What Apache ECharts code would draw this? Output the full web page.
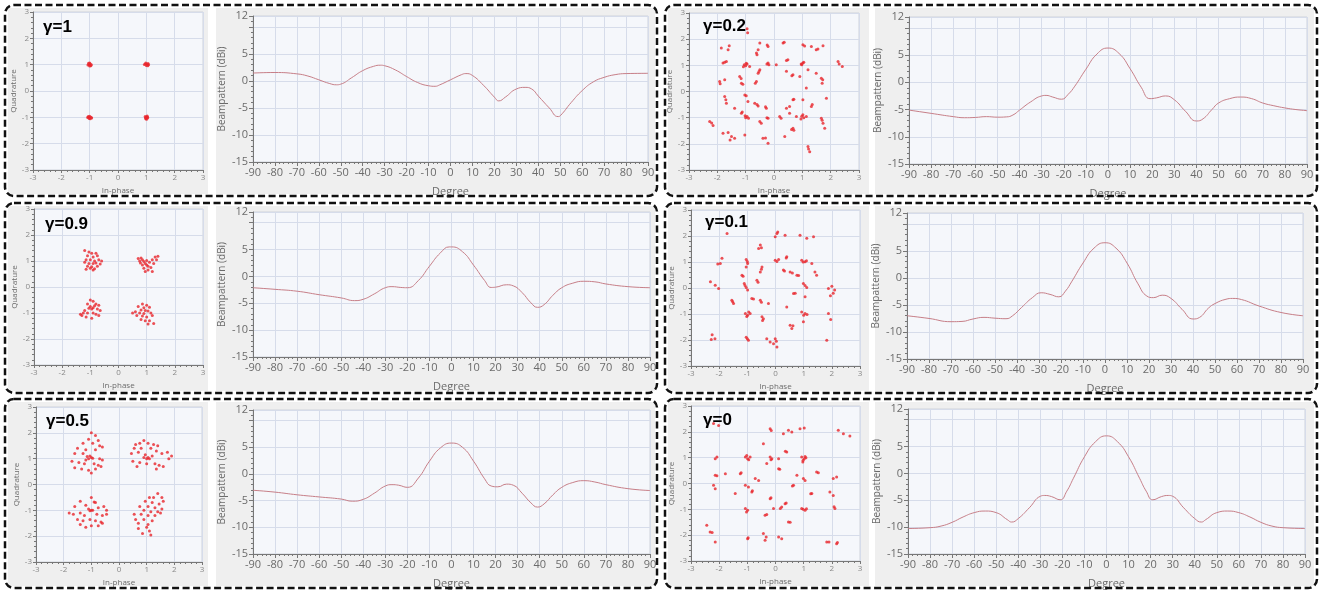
<!DOCTYPE html>
<html>
<head>
<meta charset="utf-8">
<script src="https://cdn.jsdelivr.net/npm/echarts@6/dist/echarts.min.js"></script>
<style>html,body{margin:0;padding:0;background:#fff}#c{width:1325px;height:590px}</style>
</head>
<body>
<div id="c"></div>
<script>
// ---------- DATA ----------
const gammaLabels = ['γ=1', 'γ=0.2', 'γ=0.9', 'γ=0.1', 'γ=0.5', 'γ=0'];
const iqTicks = [-3, -2, -1, 0, 1, 2, 3];
const degTicks = [-90, -80, -70, -60, -50, -40, -30, -20, -10, 0, 10, 20, 30, 40, 50, 60, 70, 80, 90];
const bpTicks = [-15, -10, -5, 0, 5, 12];

// Beampattern curves (degree, dBi)
const degG1 = [-90,-80,-70,-65,-60,-55,-52,-50,-45,-40,-35,-32,-30,-25,-20,-15,-10,-7,-5,0,5,7,10,15,20,22,25,30,34,37,40,45,49,50,55,60,65,70,75,80,90];
const bpG1  = [1.45,1.55,1.3,0.9,0.2,-0.5,-0.72,-0.6,0.6,1.9,2.7,2.9,2.8,2.0,0.8,-0.3,-0.9,-1.0,-0.75,0.2,1.15,1.35,1.0,-0.8,-3.0,-3.7,-3.0,-1.5,-1.2,-1.5,-2.8,-5.0,-6.6,-6.45,-4.0,-1.8,-0.2,0.65,1.15,1.35,1.4];

const degG09 = [-90,-80,-70,-60,-50,-44,-40,-35,-30,-27,-23,-20,-15,-10,-5,-1,0,5,10,15,18,20,25,28,32,36,39,42,46,50,55,60,65,70,80,90];
const bpG09  = [-2.1,-2.4,-2.75,-3.4,-4.0,-4.5,-4.25,-3.25,-2.1,-1.9,-2.05,-2.1,-0.75,1.9,4.4,5.5,5.5,4.6,2.1,-0.75,-2.05,-2.0,-1.55,-1.75,-3.0,-4.9,-5.75,-5.25,-3.5,-2.1,-1.25,-0.9,-1.0,-1.4,-1.9,-2.1];

const degG05 = [-90,-80,-70,-60,-50,-45,-40,-35,-30,-27,-24,-20,-15,-10,-5,0,5,10,15,18,21,25,28,32,36,39,42,46,50,55,60,65,70,80,90];
const bpG05  = [-3.05,-3.4,-3.9,-4.3,-4.7,-5.1,-4.75,-3.6,-2.25,-2.0,-2.1,-2.5,-0.75,2.4,4.9,5.8,5.0,2.4,-0.9,-2.25,-2.4,-1.9,-2.1,-3.6,-5.4,-6.2,-5.6,-3.9,-2.5,-1.6,-1.25,-1.5,-2.0,-2.75,-3.1];

const degG02 = [-90,-80,-70,-65,-60,-55,-50,-46,-43,-40,-35,-30,-28,-25,-21,-18,-15,-10,-5,0,5,10,15,19,22,26,30,35,40,43,47,50,55,60,65,70,75,80,85,90];
const bpG02  = [-5.1,-5.7,-6.3,-6.5,-6.45,-6.3,-6.4,-6.35,-6.0,-5.1,-3.6,-2.5,-2.4,-2.7,-3.1,-2.2,-0.7,2.4,5.2,6.3,5.3,2.5,-0.9,-3.0,-2.85,-2.5,-3.2,-5.3,-7.1,-6.7,-5.0,-3.8,-3.0,-2.7,-3.0,-3.8,-4.3,-4.7,-5.0,-5.2];

const degG01 = [-90,-80,-70,-65,-60,-55,-50,-45,-42,-38,-33,-29,-25,-21,-18,-15,-10,-5,0,5,10,15,19,22,26,30,35,40,43,47,50,55,58,62,70,80,90];
const bpG01  = [-7.0,-7.5,-8.1,-8.05,-7.6,-7.3,-7.45,-7.55,-7.0,-5.5,-3.65,-2.75,-3.05,-3.5,-2.45,-0.6,2.75,5.5,6.5,5.5,2.75,-1.1,-3.35,-3.65,-3.2,-3.8,-5.8,-7.6,-7.3,-5.6,-4.75,-3.95,-3.8,-4.0,-5.2,-6.4,-7.0];

const degG0 = [-90,-80,-75,-70,-65,-60,-55,-50,-45,-43,-40,-35,-30,-28,-25,-21,-18,-15,-10,-5,0,5,10,15,18,21,25,28,30,35,40,43,45,50,55,60,65,70,75,80,90];
const bpG0  = [-10.25,-10.1,-9.8,-9.1,-8.1,-7.3,-7.0,-7.3,-8.6,-9.05,-8.4,-6.4,-4.25,-4.1,-4.3,-4.9,-3.3,-0.9,3.1,5.9,7.0,5.9,3.1,-0.9,-3.3,-4.9,-4.3,-4.1,-4.25,-6.4,-8.4,-9.05,-8.6,-7.3,-7.0,-7.3,-8.1,-9.1,-9.8,-10.1,-10.25];

// Constellation points (In-phase, Quadrature)
const iqG1 = [[-1.02,1.0],[-0.98,1.03],[-1.0,0.95],[-1.06,0.99],[-0.94,1.0],[-1.04,1.05],[-0.96,0.96],[-1.0,1.06],
  [0.97,1.03],[1.04,1.02],[1.0,0.97],[1.08,1.0],[0.93,1.01],[1.05,0.96],[0.98,1.06],[1.06,1.04],
  [-1.03,-1.0],[-0.95,-1.0],[-1.0,-0.96],[-1.07,-1.01],[-0.98,-1.05],[-0.93,-1.03],[-1.02,-1.04],[-1.05,-0.97],
  [1.0,-1.0],[1.03,-0.95],[0.98,-1.05],[1.05,-1.02],[0.96,-0.97],[1.01,-1.07],[1.04,-0.99],[0.97,-1.02]];

const iqG09 = [[-1.2,1.4],[-1.05,1.35],[-0.95,1.3],[-0.8,1.3],[-1.1,1.2],[-0.9,1.15],[-0.75,1.2],[-1.15,1.05],[-1.0,1.05],[-0.85,1.0],[-0.7,1.05],[-0.6,1.0],[-1.2,0.95],[-1.05,0.9],[-0.9,0.9],[-0.8,0.92],[-0.65,0.88],[-1.1,0.8],[-0.95,0.78],[-0.75,0.8],[-1.15,0.68],[-0.9,0.65],[-1.0,0.72],[-0.85,0.7],
  [0.7,1.1],[0.8,1.12],[0.75,1.0],[0.85,1.05],[0.9,0.98],[0.95,0.9],[1.0,0.85],[0.85,0.85],[1.05,0.8],[1.1,0.95],[1.2,1.05],[1.3,1.15],[1.4,1.18],[1.35,1.05],[1.15,0.75],[1.05,0.65],[0.95,0.6],[1.2,0.6],[0.78,0.92],[1.0,1.02],[1.25,0.9],[0.9,0.72],
  [-1.0,-0.5],[-0.9,-0.55],[-1.1,-0.65],[-0.8,-0.65],[-0.7,-0.7],[-1.0,-0.75],[-0.9,-0.8],[-0.95,-0.85],[-1.05,-0.82],[-0.75,-0.85],[-0.65,-0.9],[-1.2,-0.9],[-1.35,-1.05],[-1.25,-1.0],[-1.1,-1.0],[-0.9,-1.0],[-0.8,-1.05],[-1.15,-1.15],[-0.95,-1.2],[-0.7,-1.1],[-1.3,-1.1],[-0.85,-0.72],
  [0.85,-0.65],[1.0,-0.7],[0.7,-0.75],[0.9,-0.8],[1.1,-0.78],[0.8,-0.88],[0.95,-0.9],[1.05,-0.92],[0.6,-0.95],[0.5,-1.0],[0.75,-1.0],[0.9,-1.02],[1.15,-1.0],[0.65,-1.1],[0.85,-1.12],[1.0,-1.15],[1.2,-1.1],[0.8,-1.25],[0.95,-1.3],[1.1,-1.3],[1.25,-1.4],[1.05,-1.42]];

const iqG05 = [[-1.0,2.0],[-0.85,1.9],[-1.1,1.75],[-0.75,1.7],[-1.3,1.6],[-0.95,1.6],[-0.7,1.5],[-0.6,1.45],[-1.5,1.4],[-1.2,1.35],[-0.85,1.35],[-1.6,1.2],[-1.3,1.2],[-1.05,1.1],[-1.0,1.05],[-1.1,1.0],[-0.95,1.02],[-1.15,1.08],[-0.7,1.0],[-0.6,0.95],[-1.7,0.9],[-1.45,0.85],[-1.25,0.8],[-0.9,0.8],[-0.75,0.75],[-1.6,0.65],[-1.35,0.6],[-1.1,0.55],[-0.85,0.6],[-1.0,0.45],[-0.65,0.7],[-1.2,0.95],
  [0.6,1.55],[0.75,1.6],[0.9,1.7],[1.05,1.6],[1.25,1.55],[1.4,1.5],[0.55,1.4],[0.8,1.4],[1.15,1.4],[1.35,1.3],[0.45,1.2],[0.7,1.25],[0.95,1.15],[1.05,1.05],[1.1,1.0],[1.0,1.0],[0.9,1.05],[1.2,1.1],[1.55,1.2],[1.75,1.25],[1.9,1.1],[0.5,0.9],[0.75,0.85],[1.0,0.8],[1.3,0.8],[1.45,0.75],[1.6,0.7],[1.35,0.6],[0.65,0.7],[1.8,1.0],
  [-1.0,-0.5],[-0.9,-0.68],[-0.85,-0.7],[-1.4,-0.65],[-1.2,-0.8],[-1.6,-0.85],[-1.1,-0.95],[-1.0,-1.0],[-1.05,-1.02],[-0.95,-1.0],[-0.75,-0.9],[-0.55,-0.85],[-0.45,-1.0],[-1.8,-1.1],[-1.65,-1.15],[-1.4,-1.1],[-1.25,-1.2],[-0.8,-1.15],[-0.6,-1.2],[-0.45,-1.15],[-1.5,-1.35],[-1.3,-1.4],[-1.05,-1.35],[-0.85,-1.4],[-0.65,-1.45],[-1.4,-1.55],[-1.0,-1.6],[-0.75,-1.6],[-0.6,-1.5],[-1.2,-1.65],
  [1.4,-0.35],[1.1,-0.5],[1.25,-0.5],[1.55,-0.5],[0.95,-0.65],[1.2,-0.7],[1.45,-0.75],[0.75,-0.85],[1.05,-0.85],[1.3,-0.9],[1.55,-0.95],[0.9,-1.0],[1.15,-1.05],[1.4,-1.05],[0.55,-1.15],[0.8,-1.15],[1.05,-1.2],[1.3,-1.2],[0.6,-1.35],[0.9,-1.35],[1.2,-1.4],[0.7,-1.5],[1.05,-1.55],[0.7,-1.7],[1.0,-1.65],[1.1,-1.8],[1.15,-1.95],[0.85,-1.9],[1.5,-1.1],[1.6,-0.65]];

const iqG02 = [[-0.95,2.4],[-0.93,2.25],[-1.86,1.66],[-1.62,1.6],[-1.58,1.75],[-1.68,1.15],[-1.8,1.09],[-1.74,1.12],
  [-1.05,1.02],[-1.0,0.98],[-0.95,1.05],[-1.08,0.95],[-0.98,1.08],[-0.86,0.96],[-0.62,1.47],[-0.56,1.6],[-0.6,1.4],[-0.5,1.85],
  [-0.21,1.72],[-0.24,1.78],[-0.5,0.83],[-0.56,0.7],[-0.53,0.76],[-0.62,0.38],[-0.66,0.32],[-0.21,1.09],[-0.18,1.02],[-0.25,1.05],
  [0.08,1.02],[0.32,1.85],[0.36,1.88],[0.49,1.21],[0.44,1.18],[0.44,0.77],[0.67,0.64],[0.63,0.6],[0.91,0.57],
  [1.02,1.09],[0.98,1.02],[1.05,1.12],[0.96,1.05],[1.02,1.79],[1.08,1.74],[1.32,1.72],[1.49,1.6],[1.55,1.62],[1.73,1.75],
  [1.2,0.83],[1.49,0.7],[1.67,0.51],[1.7,0.32],[1.72,0.45],[1.14,0.13],[2.26,1.15],[2.41,0.96],[2.3,1.05],
  [-1.92,0.38],[-1.74,0.45],[-1.9,0.3],[-1.21,0.57],[-1.16,0.5],[-1.15,0.32],[-1.1,0.28],
  [-1.74,-0.19],[-1.68,-0.45],[-1.7,-0.32],[-1.03,-0.13],[-0.98,-0.16],[-0.92,-0.38],[-0.68,-0.45],[-0.56,-0.55],[-0.6,-0.5],
  [-0.27,-0.64],[-0.3,-0.58],[-1.39,-0.64],[-1.15,-0.83],[-1.12,-0.78],[-0.95,-0.96],[-1.0,-1.0],[-0.9,-1.02],[-1.02,-0.93],
  [-0.45,-1.21],[-0.5,-1.15],[-0.21,-1.02],[-0.25,-1.0],[-0.39,-1.79],[-0.3,-1.78],[-0.21,-1.98],
  [-2.27,-1.15],[-2.2,-1.2],[-2.15,-1.3],[-1.8,-1.6],[-1.62,-1.57],[-1.5,-1.72],[-1.39,-1.79],[-1.55,-1.85],[-1.03,-1.66],
  [0.2,-0.96],[0.25,-1.02],[0.44,-0.64],[0.55,-0.57],[0.67,-0.32],[0.7,-0.3],[0.55,-0.83],[0.79,-0.96],
  [1.02,-0.89],[0.98,-0.95],[1.05,-1.0],[0.95,-1.05],[1.14,-0.96],[1.02,-0.32],[1.32,-0.57],[1.35,-0.5],
  [0.67,-1.4],[0.62,-1.45],[0.7,-1.48],[0.38,-1.72],[1.67,-1.02],[1.73,-1.21],[1.7,-1.1],[1.79,-1.4],[1.85,-0.26],
  [1.2,-2.1],[1.26,-2.3],[1.22,-2.2]];

const iqG01 = [[-1.72,2.1],[-1.9,1.14],[-1.96,0.94],[-2.05,0.92],[-2.31,0.24],[-2.14,0.11],[-2.02,-0.02],
  [-1.55,-0.47],[-1.49,-0.6],[-1.52,-0.53],[-2.25,-1.8],[-2.15,-1.95],[-2.28,-1.98],
  [-1.04,1.1],[-0.99,0.94],[-1.04,0.81],[-1.0,1.02],[-1.19,0.49],[-1.15,0.45],
  [-1.11,0.17],[-1.04,0.02],[-0.99,-0.08],[-1.08,0.1],[-0.84,-0.4],[-0.78,-0.42],
  [-1.07,-0.98],[-0.99,-1.05],[-0.9,-0.98],[-1.02,-1.1],[-0.95,-0.92],[-1.04,-1.89],[-0.96,-2.01],[-1.0,-1.95],
  [-0.6,1.52],[-0.54,1.65],[-0.5,1.55],[-0.48,0.81],[-0.54,0.62],[-0.5,0.72],[-0.66,0.3],[-0.62,0.22],
  [-0.54,-0.47],[-0.5,-0.55],[-0.25,-0.6],[-0.48,-1.11],[-0.43,-1.18],[-0.46,-1.25],
  [-0.31,-1.95],[-0.19,-2.08],[-0.07,-2.14],[-0.01,-1.95],[0.05,-2.27],[0.03,-2.05],
  [-0.01,1.07],[0.11,1.1],[0.05,1.02],[0.05,2.1],[-0.01,1.97],[0.08,2.15],[0.34,2.03],
  [0.4,1.2],[0.38,1.15],[0.28,0.69],[0.32,0.65],[0.4,-0.73],[0.52,0.62],[0.6,0.58],[0.64,-0.21],[0.7,-0.2],
  [0.52,-1.43],[0.58,-1.56],[0.62,-1.45],[0.87,2.03],[1.11,1.91],[1.35,1.97],
  [0.93,1.07],[1.05,1.01],[0.98,1.0],[1.1,1.05],[0.76,0.49],[0.82,0.48],[0.99,0.17],[1.11,0.02],[1.05,0.1],[1.05,-0.34],
  [0.93,-0.92],[1.05,-0.98],[1.0,-1.05],[1.12,-1.02],[0.99,-1.3],[1.4,0.62],[1.46,0.49],[1.29,0.94],
  [1.88,-0.02],[2.0,0.07],[2.05,-0.2],[2.1,-0.08],[1.95,-0.3],[1.88,-0.98],[1.96,-1.21],[1.82,-2.01]];

const iqG0 = [[-2.2,2.32],[-2.02,2.25],[-2.14,0.96],[-2.08,1.03],[-2.14,0.32],[-2.08,0.3],[-2.2,-0.07],[-2.14,-0.2],
  [-1.78,0.38],[-1.25,0.38],[-1.22,0.42],[-1.43,-0.39],
  [-1.07,1.03],[-0.99,0.96],[-0.9,1.03],[-1.02,1.08],[-0.95,0.92],[-1.07,-0.07],[-0.96,-0.14],[-0.84,-0.33],[-0.82,-0.28],
  [-1.07,-0.97],[-0.99,-1.04],[-1.03,-1.1],[-0.99,-2.14],[-0.97,-2.1],[-0.72,0.19],[-0.6,0.12],[-0.43,1.54],
  [-0.19,1.03],[-0.13,0.96],[-0.16,0.92],[-0.19,2.12],[-0.15,2.05],[-0.31,0.77],[-0.19,-0.59],[-0.16,-0.55],
  [-0.37,-1.23],[-0.31,-1.2],[-0.43,-1.94],[-0.33,-2.07],[-0.37,-2.2],
  [0.11,0.96],[0.11,0.57],[0.15,0.55],[0.17,-0.97],[0.22,-0.91],[-0.07,-0.97],[0.34,-0.78],[0.38,-0.75],
  [0.11,-2.07],[0.22,-2.14],[0.28,1.93],[0.46,2.06],[0.58,1.99],[0.4,1.22],[0.35,1.25],[0.46,-1.49],[0.52,-1.5],
  [0.87,2.12],[1.02,2.15],[0.93,1.03],[1.02,0.96],[0.97,0.83],[1.05,1.05],[0.98,0.9],[1.08,1.0],
  [0.76,0.32],[0.99,0.19],[1.05,0.12],[0.64,-0.07],[0.6,-0.1],
  [0.93,-0.97],[1.05,-1.04],[0.98,-1.0],[1.1,-0.98],[1.29,-0.39],[1.25,-0.4],[1.46,0.45],[1.52,0.42],
  [2.05,0.19],[2.17,0.25],[1.93,-0.33],[2.05,-0.46],[2.11,-0.97],[2.08,-0.9],
  [1.82,-2.26],[1.9,-2.26],[2.17,-2.33],[2.2,-2.28],[2.23,2.06],[2.41,1.93],[2.64,1.84],
  [-2.44,-1.62],[-2.32,-1.88],[-2.25,-1.9],[-2.14,-2.26]];

// panel order: row by row, left then right
const curves = [[degG1, bpG1], [degG02, bpG02], [degG09, bpG09], [degG01, bpG01], [degG05, bpG05], [degG0, bpG0]];
const points = [iqG1, iqG02, iqG09, iqG01, iqG05, iqG0];

// ---------- LAYOUT ----------
const rowTop = [5, 203, 399];
const rowH = [191, 190, 189];
const scatterGrids = [
  {left: 33, top: 12, width: 170, height: 158}, {left: 689, top: 13, width: 170, height: 157},
  {left: 34, top: 209, width: 169, height: 156}, {left: 691, top: 210, width: 169, height: 156},
  {left: 36, top: 407, width: 166, height: 155}, {left: 691, top: 406, width: 169, height: 155}
];
const lineGrids = [
  {left: 253, top: 16, width: 395, height: 146}, {left: 909, top: 17, width: 398, height: 147},
  {left: 253, top: 212, width: 397, height: 145}, {left: 907, top: 213, width: 396, height: 146},
  {left: 253, top: 410, width: 397, height: 147}, {left: 908, top: 409, width: 397, height: 147}
];
const labelPos = [[43, 19], [703, 18], [45, 216], [705, 214], [46, 413], [703, 412]];

const gridLineColor = '#d6dcea';
const plotBg = '#f5f7fb';
const axisCol = '#777';
const labCol = '#6b6b6b';
const font = 'Open Sans';

const grids = [], xAxes = [], yAxes = [], series = [], titles = [], graphics = [];

for (let r = 0; r < 3; r++) {
  const t = rowTop[r], h = rowH[r];
  graphics.push({type: 'rect', z: -10, shape: {x: 8, y: t + 3, width: 200, height: h - 5}, style: {fill: '#efefef'}});
  graphics.push({type: 'rect', z: -10, shape: {x: 216, y: t + 3, width: 439, height: h - 5}, style: {fill: '#efefef'}});
  graphics.push({type: 'rect', z: -10, shape: {x: 668, y: t + 3, width: 201, height: h - 5}, style: {fill: '#efefef'}});
  graphics.push({type: 'rect', z: -10, shape: {x: 875, y: t + 3, width: 439, height: h - 5}, style: {fill: '#efefef'}});
  graphics.push({type: 'rect', z: 100, shape: {x: 5, y: t, width: 652, height: h, r: 9}, style: {fill: null, stroke: '#111', lineWidth: 2.5, lineDash: [7, 3.5]}});
  graphics.push({type: 'rect', z: 100, shape: {x: 665, y: t, width: 652, height: h, r: 9}, style: {fill: null, stroke: '#111', lineWidth: 2.5, lineDash: [7, 3.5]}});
}

for (let p = 0; p < 6; p++) {
  const gs = 2 * p, gl = 2 * p + 1;
  grids.push(Object.assign({show: true, backgroundColor: plotBg, borderColor: '#cfd3da', borderWidth: 1}, scatterGrids[p]));
  grids.push(Object.assign({show: true, backgroundColor: plotBg, borderColor: '#cfd3da', borderWidth: 1}, lineGrids[p]));

  xAxes.push({
    gridIndex: gs, type: 'value', min: iqTicks[0], max: iqTicks[iqTicks.length - 1], interval: 1,
    name: 'In-phase', nameLocation: 'middle', nameGap: 17,
    nameTextStyle: {fontSize: 8, color: labCol, fontFamily: font},
    axisLine: {show: true, onZero: false, lineStyle: {color: axisCol}},
    axisTick: {show: true, length: 3, lineStyle: {color: axisCol}},
    minorTick: {show: true, splitNumber: 5, length: 2, lineStyle: {color: axisCol}},
    axisLabel: {fontSize: 8, color: '#888', margin: 4, fontFamily: font},
    splitLine: {show: true, lineStyle: {color: gridLineColor, width: 1}}
  });
  yAxes.push({
    gridIndex: gs, type: 'value', min: iqTicks[0], max: iqTicks[iqTicks.length - 1], interval: 1,
    name: 'Quadrature', nameLocation: 'middle', nameGap: 15, nameRotate: 90,
    nameTextStyle: {fontSize: 8, color: labCol, fontFamily: font},
    axisLine: {show: true, onZero: false, lineStyle: {color: axisCol}},
    axisTick: {show: true, length: 3, lineStyle: {color: axisCol}},
    minorTick: {show: true, splitNumber: 5, length: 2, lineStyle: {color: axisCol}},
    axisLabel: {fontSize: 8, color: '#888', margin: 4, fontFamily: font},
    splitLine: {show: true, lineStyle: {color: gridLineColor, width: 1}}
  });
  xAxes.push({
    gridIndex: gl, type: 'value', min: degTicks[0], max: degTicks[degTicks.length - 1], interval: 10,
    name: 'Degree', nameLocation: 'middle', nameGap: 24,
    nameTextStyle: {fontSize: 11, color: labCol, fontFamily: font},
    axisLine: {show: true, onZero: false, lineStyle: {color: axisCol}},
    axisTick: {show: true, length: 4, lineStyle: {color: axisCol}},
    minorTick: {show: true, splitNumber: 5, length: 2, lineStyle: {color: axisCol}},
    axisLabel: {fontSize: 11, color: labCol, margin: 5, fontFamily: font,
      formatter: v => degTicks.includes(v) ? String(v) : ''},
    splitLine: {show: true, lineStyle: {color: gridLineColor, width: 1}}
  });
  yAxes.push({
    gridIndex: gl, type: 'value', min: bpTicks[0], max: bpTicks[bpTicks.length - 1], interval: 5,
    name: 'Beampattern (dBi)', nameLocation: 'middle', nameGap: 26, nameRotate: 90,
    nameTextStyle: {fontSize: 10, color: labCol, fontFamily: font},
    axisLine: {show: true, onZero: false, lineStyle: {color: axisCol}},
    axisTick: {show: true, length: 4, lineStyle: {color: axisCol}},
    minorTick: {show: true, splitNumber: 5, length: 2, lineStyle: {color: axisCol}},
    axisLabel: {fontSize: 11, color: labCol, margin: 5, fontFamily: font,
      formatter: v => bpTicks.includes(v) ? String(v) : ''},
    splitLine: {show: true, lineStyle: {color: gridLineColor, width: 1}}
  });

  series.push({
    type: 'scatter', xAxisIndex: gs, yAxisIndex: gs, data: points[p],
    symbolSize: 3, itemStyle: {color: '#e8262c'}, silent: true, z: 3
  });
  const deg = curves[p][0], bp = curves[p][1];
  series.push({
    type: 'line', xAxisIndex: gl, yAxisIndex: gl, data: deg.map((d, i) => [d, bp[i]]),
    smooth: 0.5, showSymbol: false, symbol: 'none',
    lineStyle: {color: '#c77f88', width: 1}, silent: true, z: 3
  });
  titles.push({
    text: gammaLabels[p], left: labelPos[p][0], top: labelPos[p][1], padding: 0,
    textStyle: {fontSize: 17, fontWeight: 'bold', color: '#000', fontFamily: 'Liberation Sans'}
  });
}

const chart = echarts.init(document.getElementById('c'), null, {renderer: 'canvas'});
chart.setOption({
  animation: false,
  backgroundColor: '#fff',
  title: titles,
  grid: grids,
  xAxis: xAxes,
  yAxis: yAxes,
  series: series,
  graphic: {elements: graphics}
});
</script>
</body>
</html>
